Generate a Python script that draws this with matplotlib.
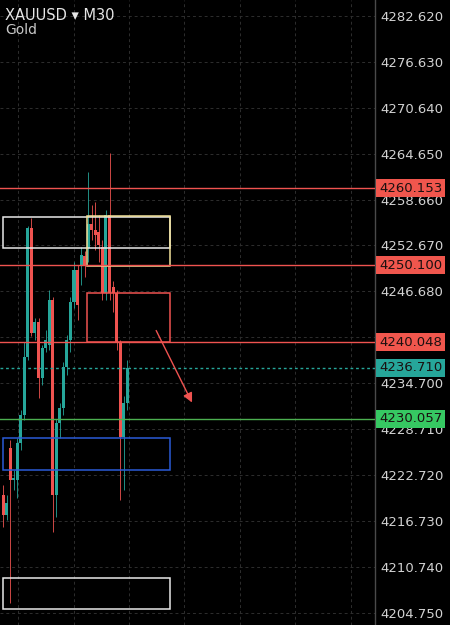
import numpy as np
import matplotlib
matplotlib.use("Agg")
import matplotlib.pyplot as plt
from matplotlib.patches import Rectangle, FancyArrowPatch

# M30 candles, oldest first
opens = [4220.09, 4217.48, 4226.22, 4222.05, 4222.05, 4226.88, 4230.53, 4238.10, 4254.94,
         4241.24, 4242.67, 4235.36, 4239.28, 4239.67, 4245.54, 4220.09, 4229.49, 4231.45,
         4236.80, 4240.32, 4245.28, 4249.46, 4250.11, 4251.29, 4252.33, 4255.47, 4254.68,
         4254.42, 4252.46, 4246.46, 4256.64, 4247.24, 4246.46, 4240.06, 4227.66, 4232.10]
highs = [4221.39, 4220.09, 4227.27, 4223.35, 4227.53, 4231.18, 4240.06, 4255.20, 4256.25,
         4243.19, 4243.19, 4239.67, 4241.63, 4246.85, 4245.94, 4230.00, 4232.10, 4237.50,
         4241.00, 4246.00, 4250.51, 4250.11, 4252.50, 4252.00, 4262.25, 4257.95, 4258.34,
         4256.64, 4253.38, 4257.29, 4264.73, 4248.00, 4246.85, 4240.32, 4233.00, 4237.71]
lows = [4215.91, 4216.82, 4205.99, 4220.74, 4219.70, 4225.96, 4229.88, 4237.71, 4240.84,
        4240.32, 4232.75, 4234.45, 4238.76, 4239.02, 4215.26, 4217.22, 4227.50, 4230.50,
        4235.80, 4238.80, 4244.50, 4243.00, 4247.50, 4248.50, 4250.51, 4253.38, 4252.07,
        4250.51, 4245.54, 4245.54, 4245.54, 4244.00, 4239.00, 4219.43, 4220.74, 4231.18]
closes = [4217.48, 4219.04, 4222.05, 4222.31, 4226.88, 4230.53, 4238.10, 4254.94, 4241.24,
          4242.67, 4235.36, 4239.28, 4240.32, 4245.54, 4220.09, 4229.49, 4231.45, 4236.80,
          4240.32, 4245.28, 4249.46, 4244.89, 4251.42, 4250.11, 4255.47, 4254.68, 4254.03,
          4252.72, 4246.46, 4256.64, 4246.46, 4246.46, 4240.06, 4227.66, 4232.10, 4236.71]

price_ticks = [4282.620, 4276.630, 4270.640, 4264.650, 4258.660, 4252.670, 4246.680,
               4240.690, 4234.700, 4228.710, 4222.720, 4216.730, 4210.740, 4204.750]

# horizontal levels: (price, line colour, label colour, line style)
level_prices = [4260.153, 4250.100, 4240.048, 4236.710, 4230.057]
level_line_colors = ["#ef5350", "#ef5350", "#ef5350", "#26a69a", "#4caf50"]
level_label_colors = ["#f0564d", "#f0564d", "#f0564d", "#26a69a", "#36c862"]
level_styles = ["-", "-", "-", (0, (2, 2)), "-"]

# zones drawn on the chart: (x0, x1, low, high, colour)
zones = [
    (0.0, 47.0, 4252.33, 4256.38, "#e8e8e8"),
    (23.7, 47.0, 4249.98, 4256.51, "#f3e39b"),
    (23.7, 47.0, 4240.06, 4246.46, "#ef5350"),
    (0.0, 47.0, 4223.35, 4227.53, "#2a5bd7"),
    (0.0, 47.0, 4205.20, 4209.25, "#e8e8e8"),
]

UP = "#26a69a"
DOWN = "#ef5350"

fig = plt.figure(figsize=(4.5, 6.25), dpi=100, facecolor="black")
ax = fig.add_axes([0, 0, 375 / 450, 1])
ax.set_facecolor("black")

idx = np.arange(len(opens))
o = np.array(opens)
c = np.array(closes)
colors = [UP if cc >= oo else DOWN for oo, cc in zip(o, c)]

# wicks + bodies
ax.vlines(idx, lows, highs, colors=colors, linewidth=0.6, zorder=3)
ax.bar(idx, np.maximum(np.abs(c - o), 0.15), bottom=np.minimum(o, c),
       width=0.85, color=colors, linewidth=0, zorder=4)

ax.set_xlim(-0.85, 104.8)
ax.set_ylim(4203.12, 4284.71)

# grid
for p in price_ticks:
    ax.axhline(p, color="#2e2e2e", lw=0.7, ls=(0, (3, 3)), zorder=1)
for k in range(7):
    ax.axvline(4.23 + 15.63 * k, color="#2e2e2e", lw=0.7, ls=(0, (3, 3)), zorder=1)

# zones
for x0, x1, lo, hi, col in zones:
    ax.add_patch(Rectangle((x0, lo), x1 - x0, hi - lo, fill=False,
                           edgecolor=col, lw=1.1, zorder=5))

# levels
for p, lc, st in zip(level_prices, level_line_colors, level_styles):
    ax.axhline(p, color=lc, lw=1.0, ls=st, zorder=5)

# arrow
ax.add_patch(FancyArrowPatch((42.8, 4241.89), (53.6, 4231.84), arrowstyle="-|>",
                             mutation_scale=14, color="#ef5350", lw=1.0, zorder=6))

# price scale on the right
ax.yaxis.tick_right()
ax.set_yticks(price_ticks)
ax.set_yticklabels([f"{p:.3f}" for p in price_ticks])
ax.tick_params(axis="y", length=0, pad=4, labelsize=9.5, labelcolor="#d2d2d2")
ax.set_xticks([])
for s in ["top", "left", "bottom"]:
    ax.spines[s].set_visible(False)
ax.spines["right"].set_color("#4a4a4a")
ax.spines["right"].set_linewidth(1.0)

trans = ax.get_yaxis_transform()
for p, col in zip(level_prices, level_label_colors):
    ax.text(1.0 + 4 / 375, p, f"{p:.3f}", transform=trans, ha="left", va="center",
            fontsize=9.5, color="#1a1010", clip_on=False, zorder=10,
            bbox=dict(boxstyle="square,pad=0.2", facecolor=col, edgecolor="none"))

# header
fig.text(5 / 450, 1 - 15 / 625, "XAUUSD \u25be M30", color="#e6e6e6", fontsize=10.5,
         va="center", ha="left")
fig.text(5 / 450, 1 - 30 / 625, "Gold", color="#c8c8c8", fontsize=10,
         va="center", ha="left")

fig.savefig("out.png", dpi=100, facecolor="black")
